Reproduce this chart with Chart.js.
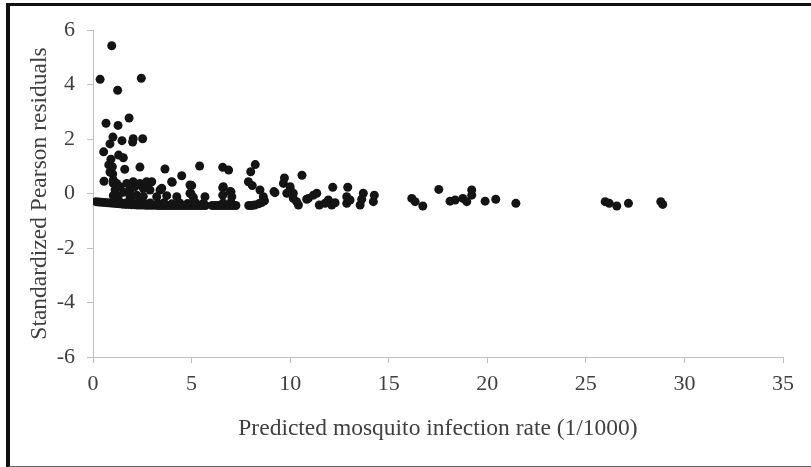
<!DOCTYPE html>
<html>
<head>
<meta charset="utf-8">
<script src="https://cdn.jsdelivr.net/npm/chart.js@4/dist/chart.umd.min.js"></script>
<style>
  html, body { margin: 0; padding: 0; background: #fff; }
  #wrap { position: relative; width: 811px; height: 467px; }
  #frame { position: absolute; left: 6px; top: 3px; width: 820px; height: 460px;
           border-left: 4px solid #111; border-top: 3px solid #111; border-bottom: 2px solid #666; pointer-events: none; }
  canvas { position: absolute; left: 0; top: 0; }
</style>
</head>
<body>
<div id="wrap">
  <canvas id="c" width="811" height="467"></canvas>
  <div id="frame"></div>
</div>
<script>
// Axis settings
const xTitle = "Predicted mosquito infection rate (1/1000)";
const yTitle = "Standardized Pearson residuals";
const xMin = 0, xMax = 35, xStep = 5;
const yMin = -6, yMax = 6, yStep = 2;

// Large positive residuals (predicted rate, residual)
const outlierRate  = [0.95, 0.36, 2.45, 1.25, 0.66, 1.27, 1.83, 1.01, 0.86, 0.54, 1.47, 2.04, 2.01, 2.52, 0.91, 0.98, 1.30, 1.54, 1.61, 2.38, 0.56, 1.00, 1.03];
const outlierResid = [5.42, 4.19, 4.23, 3.79, 2.58, 2.50, 2.77, 2.07, 1.82, 1.53, 1.94, 2.01, 1.89, 2.01, 1.26, 0.98, 1.41, 1.31, 0.89, 0.97, 0.45, 0.72, 0.37];

// Moderate residuals
const midRate  = [3.65, 4.50, 5.41, 4.02, 5.01, 4.97, 6.58, 6.88, 6.58, 7.00, 8.23, 8.00, 7.88, 8.08, 9.23, 9.71, 10.60, 10.00, 9.83, 10.16, 10.42, 11.18, 10.84, 11.48, 11.77, 11.94, 12.16, 12.11, 12.28, 12.92, 12.87, 13.04, 12.87, 13.55, 13.71, 13.63, 14.27, 14.22, 16.17, 16.34, 16.73, 17.54, 18.11, 18.37, 18.76, 18.96, 19.21, 19.21, 19.89, 20.43, 21.45, 25.98, 26.19, 26.57, 27.16, 28.80, 28.90,
                  1.03, 1.20, 1.12, 1.37, 1.71, 2.04, 1.88, 2.13, 2.38, 2.55, 2.72, 2.72, 2.89, 2.98, 3.40, 3.49, 3.99, 4.25, 4.92, 4.92, 5.68, 6.61, 6.58, 6.95, 7.04, 8.47, 8.64, 9.18, 9.66, 10.00, 10.16, 10.33, 10.92, 11.35,
                  1.03, 1.28, 1.88, 2.22, 2.55, 3.23, 3.74, 5.09, 0.86, 0.80, 1.55];
const midResid = [0.90, 0.65, 1.01, 0.41, 0.29, -0.01, 0.96, 0.86, 0.21, 0.06, 1.06, 0.80, 0.43, 0.29, 0.03, 0.57, 0.67, 0.15, 0.01, -0.18, -0.42, -0.06, -0.21, -0.42, -0.36, -0.24, 0.23, -0.42, -0.34, 0.23, -0.12, -0.24, -0.36, -0.42, 0.01, -0.21, -0.06, -0.30, -0.18, -0.30, -0.46, 0.15, -0.28, -0.24, -0.18, -0.30, 0.13, -0.06, -0.28, -0.21, -0.36, -0.30, -0.36, -0.46, -0.36, -0.30, -0.40,
                  0.50, 0.37, 0.13, 0.25, 0.37, 0.43, 0.13, 0.25, 0.37, 0.19, 0.25, 0.43, 0.13, 0.43, 0.13, 0.19, 0.43, -0.12, 0.31, 0.01, -0.12, 0.25, -0.06, 0.07, -0.12, 0.13, -0.12, 0.07, 0.37, 0.25, 0.01, -0.30, -0.18, 0.01,
                  -0.08, -0.10, -0.12, -0.06, -0.10, -0.12, -0.08, -0.14, 0.79, 1.05, 0.05];

// Dense band of zero-count observations
const bandRate  = [0.15, 0.30, 0.45, 0.60, 0.75, 0.90, 1.05, 1.20, 1.35, 1.50, 1.65, 1.80, 1.95, 2.10, 2.25, 2.40, 2.55, 2.70, 2.85, 3.00, 3.15, 3.30, 3.45, 3.60, 3.75, 3.90, 4.05, 4.20, 4.35, 4.50, 4.65, 4.80, 4.95, 5.10, 5.25, 5.40, 5.55, 5.70,
                   1.10, 1.40, 1.70, 2.00, 2.30, 2.60, 2.90, 3.30, 3.60, 4.00, 4.40, 4.80, 5.20, 5.60,
                   6.05, 6.20, 6.35, 6.50, 6.65, 6.80, 6.95, 7.10, 7.25, 6.60, 7.00,
                   7.90, 8.05, 8.20, 8.40, 8.55, 8.70];
const bandResid = [-0.30, -0.31, -0.32, -0.33, -0.34, -0.35, -0.36, -0.37, -0.38, -0.39, -0.40, -0.40, -0.41, -0.41, -0.42, -0.42, -0.42, -0.43, -0.43, -0.43, -0.43, -0.44, -0.44, -0.44, -0.44, -0.44, -0.44, -0.44, -0.44, -0.44, -0.44, -0.44, -0.44, -0.44, -0.44, -0.44, -0.44, -0.44,
                   -0.31, -0.33, -0.34, -0.35, -0.33, -0.36, -0.35, -0.37, -0.34, -0.38, -0.35, -0.37, -0.34, -0.36,
                   -0.44, -0.44, -0.44, -0.44, -0.44, -0.44, -0.44, -0.44, -0.44, -0.35, -0.33,
                   -0.44, -0.44, -0.42, -0.38, -0.33, -0.27];

function zip(xs, ys) { return xs.map((x, i) => ({ x: x, y: ys[i] })); }
const points = [].concat(zip(outlierRate, outlierResid), zip(midRate, midResid), zip(bandRate, bandResid));

const axisGray = '#bfbfbf';
const textGray = '#404040';

new Chart(document.getElementById('c'), {
  type: 'scatter',
  data: { datasets: [{ data: points, backgroundColor: '#141414', borderColor: '#141414', borderWidth: 0, pointRadius: 4.5, pointHoverRadius: 4.5 }] },
  options: {
    responsive: false, animation: false,
    plugins: { legend: { display: false }, tooltip: { enabled: false } },
    layout: { padding: { top: 30, right: 28, left: 0, bottom: 0 } },
    scales: {
      x: {
        type: 'linear', min: xMin, max: xMax,
        ticks: { stepSize: xStep, color: textGray, font: { family: 'Liberation Serif', size: 22 }, padding: 8, maxRotation: 0 },
        grid: { display: true, drawOnChartArea: false, drawTicks: true, tickLength: 6, color: axisGray },
        border: { color: axisGray, width: 1 },
        title: { display: true, text: xTitle, color: textGray, font: { family: 'Liberation Serif', size: 23.5 }, padding: { top: 0, bottom: 24 } },
        afterFit: function (s) { s.height = 110; }
      },
      y: {
        type: 'linear', min: yMin, max: yMax,
        ticks: { stepSize: yStep, color: textGray, font: { family: 'Liberation Serif', size: 22 }, padding: 12 },
        grid: { display: true, drawOnChartArea: false, drawTicks: true, tickLength: 6, color: axisGray },
        border: { color: axisGray, width: 1 },
        title: { display: true, text: yTitle, color: textGray, font: { family: 'Liberation Serif', size: 23.5 }, padding: { top: 26, bottom: 0 } },
        afterFit: function (s) { s.width = 93; }
      }
    }
  }
});
</script>
</body>
</html>
